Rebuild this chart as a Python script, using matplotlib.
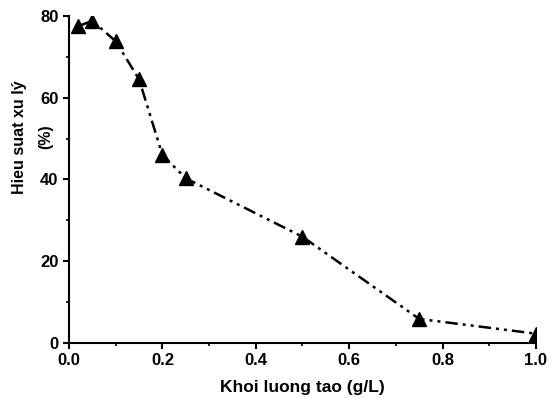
import matplotlib
matplotlib.use("Agg")
import matplotlib.pyplot as plt
from matplotlib.ticker import MultipleLocator

plt.rcParams['font.family'] = ['Liberation Sans', 'DejaVu Sans']
plt.rcParams['font.weight'] = 'bold'

khoi_luong = [0.02, 0.05, 0.10, 0.15, 0.20, 0.25, 0.50, 0.75, 1.00]
hieu_suat = [77.5, 78.8, 73.8, 64.5, 46.0, 40.3, 26.0, 5.9, 2.3]

fig = plt.figure(figsize=(5.52, 3.98), dpi=100)
ax = fig.add_axes([0.125, 0.138, 0.846, 0.822])

ax.plot(khoi_luong, hieu_suat, color='black', marker='^', markersize=10,
        linewidth=1.8, dashes=(5, 2, 1.2, 2, 1.2, 2))

ax.set_xlim(0, 1.0)
ax.set_ylim(0, 80)
ax.xaxis.set_major_locator(MultipleLocator(0.2))
ax.xaxis.set_minor_locator(MultipleLocator(0.1))
ax.yaxis.set_major_locator(MultipleLocator(20))
ax.yaxis.set_minor_locator(MultipleLocator(10))

for s in ['top', 'right']:
    ax.spines[s].set_visible(False)
for s in ['left', 'bottom']:
    ax.spines[s].set_linewidth(1.5)

ax.tick_params(which='major', direction='out', length=4, width=1.5, labelsize=12)
ax.tick_params(which='minor', direction='out', length=2.5, width=1.2)

ax.set_xlabel("Khoi luong tao (g/L)", fontsize=12.5, fontweight='bold', labelpad=8)
ax.set_ylabel("Hieu suat xu lý", fontsize=11.5, fontweight='bold')
ax.yaxis.set_label_coords(-0.09, 0.63)
# second line of the y label sits between the 40 and 60 tick labels
ax.text(-0.05, 0.63, "(%)", transform=ax.transAxes, rotation=90,
        ha='center', va='center', fontsize=11.5, fontweight='bold')

fig.savefig("out.png", dpi=100)
